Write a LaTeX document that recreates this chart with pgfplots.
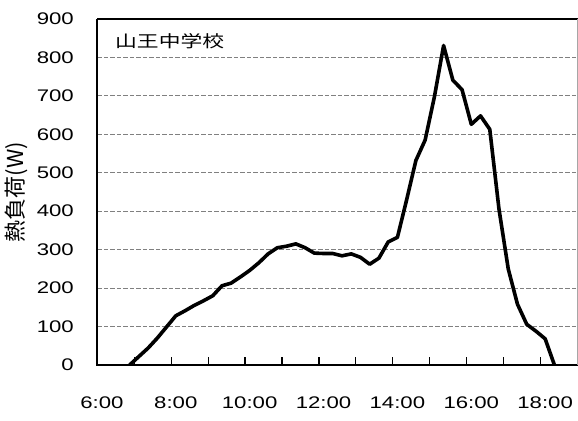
\documentclass[border=0pt]{standalone}
\usepackage{fontspec}
\usepackage{pgfplots}
\pgfplotsset{compat=1.18}
\usetikzlibrary{calc}
\setmainfont{Liberation Sans}[FakeStretch=1.32]
\newfontfamily\jpwide{Noto Sans CJK JP}[FakeStretch=1.32]
\newfontfamily\jp{Noto Sans CJK JP}

\pgfplotstableread{
t load
6.75 0
7.00 22
7.25 44
7.50 70
7.75 99
8.00 128
8.25 141
8.50 155
8.75 167
9.00 180
9.25 206
9.50 213
9.75 229
10.00 246
10.25 266
10.50 289
10.75 305
11.00 309
11.25 315
11.50 305
11.75 291
12.00 290
12.25 290
12.50 284
12.75 289
13.00 280
13.25 262
13.50 278
13.75 320
14.00 332
14.25 430
14.50 532
14.75 585
15.00 697
15.25 831
15.50 741
15.75 716
16.00 626
16.25 648
16.50 613
16.75 405
17.00 250
17.25 158
17.50 106
17.75 88
18.00 68
18.25 0
}\sanno

\begin{document}
\begin{tikzpicture}
\begin{axis}[
    name=ax,
    scale only axis,
    width=480.2pt, height=346pt,
    xmin=5.875, xmax=18.875,
    ymin=0, ymax=900,
    axis line style={draw=none},
    xtick={5.875,6.875,7.875,8.875,9.875,10.875,11.875,12.875,13.875,14.875,15.875,16.875,17.875},
    xticklabels={6:00,,8:00,,10:00,,12:00,,14:00,,16:00,,18:00},
    xtick pos=left,
    tick align=inside,
    major tick length=8.3pt,
    xtick style={black, line width=1.2pt},
    ytick={0,100,...,900},
    ytick style={draw=none},
    ymajorgrids=true,
    grid style={gray, line width=1.1pt, dash pattern=on 4.5pt off 2pt},
    /pgf/number format/assume math mode=true,
    tick label style={font=\fontsize{16.8}{19}\selectfont, inner sep=0pt},
    xticklabel style={anchor=north, xshift=4.6pt},
    xticklabel shift=31.7pt,
    yticklabel style={anchor=east},
    yticklabel shift=23.3pt,
]
\addplot[black, line width=3.6pt, line join=round] table[x=t, y=load] {\sanno};
\end{axis}
\draw[black, line width=2.3pt] (ax.north west) -- (ax.south west) -- (ax.south east);
\draw[black, line width=1.8pt] (ax.north west) -- (ax.north east);
\draw[gray!70, line width=0.8pt] (ax.north east) -- (ax.south east);
\node[anchor=west, inner sep=0pt, font=\jpwide\fontsize{16.5}{19}\selectfont]
    at ($(ax.north west)+(17.7pt,-22pt)$) {山王中学校};
\node[rotate=90, inner sep=0pt, font=\jp\fontsize{22}{24}\selectfont]
    at ($(ax.west)+(-81pt,0)$) {熱負荷(W)};
\pgfresetboundingbox
\path ($(ax.south west)+(-97.3pt,-56pt)$) rectangle ($(ax.north east)+(0.5pt,19pt)$);
\end{tikzpicture}
\end{document}
